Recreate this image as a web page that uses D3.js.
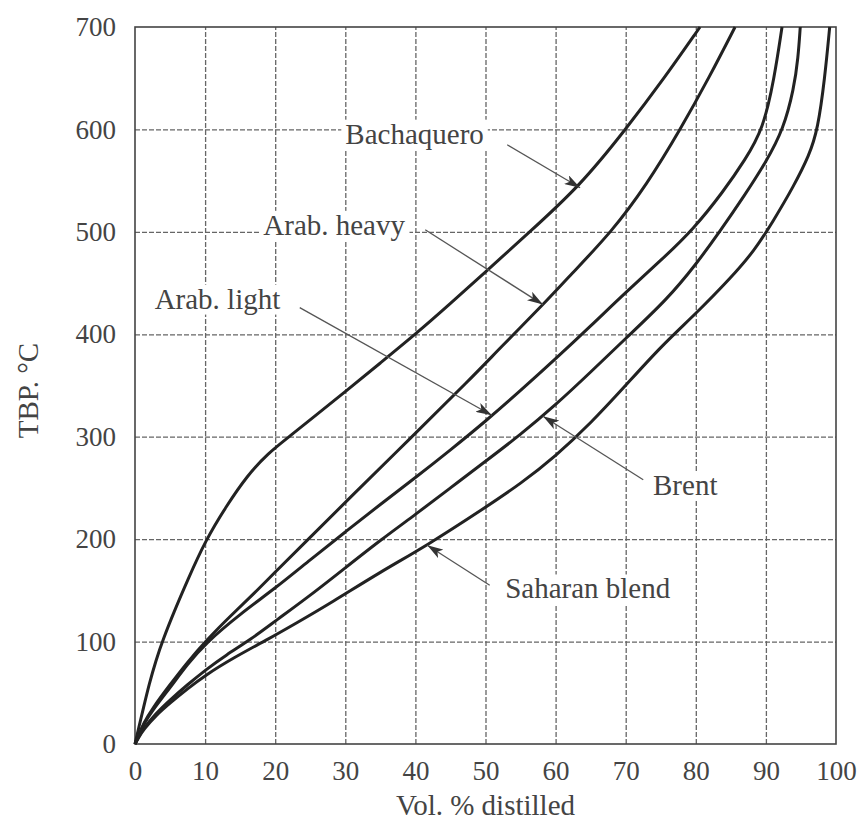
<!DOCTYPE html>
<html>
<head>
<meta charset="utf-8">
<script src="https://cdn.jsdelivr.net/npm/d3@7"></script>
<style>
  body { margin: 0; background: #fff; }
  text { font-family: "Liberation Serif", "DejaVu Serif", serif; fill: #444; }
</style>
</head>
<body>
<div id="body"></div>
<script>
// TBP distillation curves of five crudes
let xTicks = [0, 10, 20, 30, 40, 50, 60, 70, 80, 90, 100];
let yTicks = [0, 100, 200, 300, 400, 500, 600, 700];

let crudeNames = ["Bachaquero", "Arab. heavy", "Arab. light", "Brent", "Saharan blend"];

// [vol % distilled, TBP degC]
let bachaquero = [[0, 0], [0.5, 15], [1.2, 35], [2, 58], [3, 82], [4, 102], [5.5, 128], [7.5, 160],
  [10, 198], [13, 232], [16, 262], [19, 284], [22, 300], [26, 322], [30, 344], [35, 372], [40, 400],
  [45, 430], [50, 461], [56, 498], [63.5, 545], [70, 600], [75.5, 650], [80.6, 700]];
let arabHeavy = [[0, 0], [0.5, 8], [1.2, 20], [2.5, 35], [5, 58], [7.5, 80], [10, 100], [13.6, 125],
  [17, 147], [20, 168], [24.6, 199], [30, 236], [39.5, 300], [47.8, 356], [52, 386], [58.5, 431],
  [62, 457], [68, 500], [73, 546], [77.8, 600], [82, 652], [85.6, 700]];
let arabLight = [[0, 0], [0.5, 8], [1.2, 19], [2.5, 33], [5, 55], [7.5, 78], [10, 98], [15, 127],
  [20, 152], [25, 180], [30, 207], [35, 234], [40, 260], [45, 287], [50, 315], [55, 345], [60, 376],
  [65, 408], [70, 441], [75, 472], [79.6, 502], [84, 540], [87, 570], [89.6, 600], [91.2, 650],
  [92.3, 700]];
let brent = [[0, 0], [0.5, 7], [1.2, 15], [3, 30], [5, 43], [7.5, 58], [10, 72], [13, 87], [16.5, 102],
  [20, 120], [25, 145], [30, 172], [35, 199], [40, 224], [45, 250], [50, 276], [55, 302], [60, 331],
  [65, 363], [70, 396], [75.9, 434], [80, 468], [83.4, 500], [87, 536], [90, 568], [92.5, 600],
  [94, 640], [94.6, 670], [94.9, 700]];
let saharan = [[0, 0], [0.5, 6], [1.2, 14], [3, 28], [5, 40], [7.5, 54], [10, 67], [14, 84], [18.9, 102],
  [23, 118], [28, 138], [35, 168], [41.7, 194], [50, 231], [55, 254], [60, 281], [65, 313], [70, 350],
  [75, 388], [80, 420], [85, 455], [88.4, 482], [91, 510], [94, 545], [96.2, 575], [97.4, 600],
  [98.4, 650], [99.1, 700]];

// label anchor (left, middle), leader start, arrow tip - all in data units
let labelPos = [[30, 596], [18.3, 507], [2.8, 435], [73.9, 253], [52.8, 152]];
let leaderFrom = [[53.1, 585], [41.4, 502], [23.5, 426], [72.5, 258], [50.6, 155]];
let arrowTo = [[63.5, 543], [58.2, 429], [50.9, 321], [58.2, 320], [41.7, 194]];

let series = [bachaquero, arabHeavy, arabLight, brent, saharan];

let width = 863,
  height = 826;
let margin = { left: 135, right: 27, top: 27, bottom: 82 };

let svg = d3.select("#body").append("svg")
  .attr("width", width)
  .attr("height", height);

let x = d3.scaleLinear().domain([0, 100]).range([margin.left, width - margin.right]);
let y = d3.scaleLinear().domain([0, 700]).range([height - margin.bottom, margin.top]);

//grid lines (dashed, scanned look)
svg.append("g")
  .attr("class", "grid")
  .attr("transform", "translate(0," + y(0) + ")")
  .call(d3.axisBottom(x).tickValues(xTicks.slice(1, -1)).tickSize(-(y(0) - y(700))).tickFormat(""))
  .call((g) => g.select(".domain").remove());
svg.append("g")
  .attr("class", "grid")
  .attr("transform", "translate(" + x(0) + ",0)")
  .call(d3.axisLeft(y).tickValues(yTicks.slice(1, -1)).tickSize(-(x(100) - x(0))).tickFormat(""))
  .call((g) => g.select(".domain").remove());
svg.selectAll(".grid line")
  .attr("stroke", "#666")
  .attr("stroke-width", 1.3)
  .attr("stroke-dasharray", "5,2");

//frame
svg.append("rect")
  .attr("x", x(0))
  .attr("y", y(700))
  .attr("width", x(100) - x(0))
  .attr("height", y(0) - y(700))
  .attr("fill", "none")
  .attr("stroke", "#444")
  .attr("stroke-width", 1.6);

//tick labels
let xAxis = svg.append("g")
  .attr("transform", "translate(0," + y(0) + ")")
  .call(d3.axisBottom(x).tickValues(xTicks).tickSize(0).tickPadding(17));
let yAxis = svg.append("g")
  .attr("transform", "translate(" + x(0) + ",0)")
  .call(d3.axisLeft(y).tickValues(yTicks).tickSize(0).tickPadding(19));
[xAxis, yAxis].forEach((g) => {
  g.select(".domain").remove();
  g.selectAll("text")
    .style("font-family", "Liberation Serif")
    .style("font-size", "27px")
    .attr("fill", "#444");
});

//axis titles
svg.append("text")
  .attr("x", x(50))
  .attr("y", 815)
  .attr("text-anchor", "middle")
  .style("font-size", "29px")
  .text("Vol. % distilled");

svg.append("text")
  .attr("transform", "translate(38," + y(345) + ") rotate(-90)")
  .attr("text-anchor", "middle")
  .style("font-size", "29px")
  .text("TBP. °C");

//curves
let line = d3.line()
  .x((d) => x(d[0]))
  .y((d) => y(d[1]))
  .curve(d3.curveBasis);

svg.selectAll(".crude")
  .data(series)
  .enter()
  .append("path")
  .attr("class", "crude")
  .attr("d", line)
  .attr("fill", "none")
  .attr("stroke", "#222")
  .attr("stroke-width", 3);

//arrow head marker
svg.append("defs").append("marker")
  .attr("id", "head")
  .attr("markerUnits", "userSpaceOnUse")
  .attr("viewBox", "0 0 16 10")
  .attr("refX", 16)
  .attr("refY", 5)
  .attr("markerWidth", 16)
  .attr("markerHeight", 10)
  .attr("orient", "auto")
  .append("path")
  .attr("d", "M0,0 L16,5 L0,10 L4,5 Z")
  .attr("fill", "#333");

//labels with white background so the grid breaks around them
crudeNames.forEach((name, i) => {
  let g = svg.append("g").attr("class", "label");
  let t = g.append("text")
    .attr("x", x(labelPos[i][0]))
    .attr("y", y(labelPos[i][1]))
    .attr("dy", "0.35em")
    .style("font-size", "29px")
    .text(name);
  let b = t.node().getBBox();
  g.insert("rect", "text")
    .attr("x", b.x - 4)
    .attr("y", b.y + 2)
    .attr("width", b.width + 8)
    .attr("height", b.height - 2)
    .attr("fill", "#fff");

  svg.append("line")
    .attr("x1", x(leaderFrom[i][0]))
    .attr("y1", y(leaderFrom[i][1]))
    .attr("x2", x(arrowTo[i][0]))
    .attr("y2", y(arrowTo[i][1]))
    .attr("stroke", "#555")
    .attr("stroke-width", 1.3)
    .attr("marker-end", "url(#head)");
});
</script>
</body>
</html>
